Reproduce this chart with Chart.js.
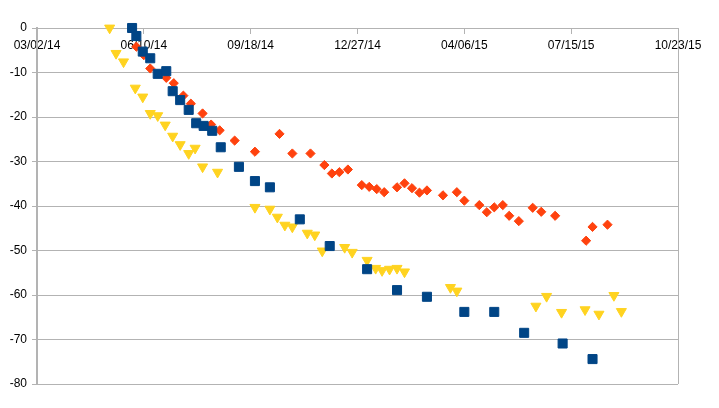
<!DOCTYPE html>
<html>
<head>
<meta charset="utf-8">
<script src="https://cdn.jsdelivr.net/npm/chart.js@4/dist/chart.umd.min.js"></script>
<style>
  html, body { margin: 0; padding: 0; background: #ffffff; }
  #wrap { width: 719px; height: 408px; }
</style>
</head>
<body>
<div id="wrap"><canvas id="c" width="719" height="408"></canvas></div>
<script>
// ---- Data ----
const baseDate = '2014-03-02';          // left end of the time axis
const xTickStepDays = 100;              // ticks every 100 days
const xSpanDays = 600;                  // 03/02/14 .. 10/23/15
const yTicks = [0, -10, -20, -30, -40, -50, -60, -70, -80];

const blueDates = ['2014-05-30','2014-06-03','2014-06-09','2014-06-16','2014-06-23','2014-07-01','2014-07-07','2014-07-14','2014-07-22','2014-07-29','2014-08-05','2014-08-13','2014-08-21','2014-09-07','2014-09-22','2014-10-06','2014-11-03','2014-12-01','2015-01-05','2015-02-02','2015-03-02','2015-04-06','2015-05-04','2015-06-01','2015-07-07','2015-08-04'];
const blueValues = [0,-1.8,-5.3,-6.8,-10.3,-9.7,-14.2,-16.2,-18.4,-21.4,-22.0,-23.1,-26.8,-31.2,-34.4,-35.8,-43.0,-49.0,-54.2,-58.9,-60.4,-63.8,-63.8,-68.5,-70.9,-74.4];

const orangeDates = ['2014-06-03','2014-06-10','2014-06-16','2014-07-01','2014-07-08','2014-07-17','2014-07-24','2014-08-04','2014-08-12','2014-08-20','2014-09-03','2014-09-22','2014-10-15','2014-10-27','2014-11-13','2014-11-26','2014-12-03','2014-12-10','2014-12-18','2014-12-31','2015-01-07','2015-01-14','2015-01-21','2015-02-02','2015-02-09','2015-02-16','2015-02-23','2015-03-02','2015-03-17','2015-03-30','2015-04-06','2015-04-20','2015-04-27','2015-05-04','2015-05-12','2015-05-18','2015-05-27','2015-06-09','2015-06-17','2015-06-30','2015-07-29','2015-08-04','2015-08-18'];
const orangeValues = [-4.2,-6.1,-9.1,-11.2,-12.4,-15.2,-17.0,-19.2,-21.7,-23.0,-25.3,-27.8,-23.8,-28.2,-28.2,-30.8,-32.7,-32.4,-31.8,-35.3,-35.7,-36.2,-36.9,-35.8,-34.9,-36.0,-37.0,-36.5,-37.6,-36.9,-38.8,-39.8,-41.4,-40.3,-39.8,-42.2,-43.4,-40.4,-41.3,-42.2,-47.8,-44.7,-44.2];

const yellowDates = ['2014-05-09','2014-05-15','2014-05-22','2014-06-02','2014-06-09','2014-06-16','2014-06-23','2014-06-30','2014-07-07','2014-07-14','2014-07-22','2014-07-28','2014-08-04','2014-08-18','2014-09-22','2014-10-06','2014-10-13','2014-10-20','2014-10-27','2014-11-10','2014-11-17','2014-11-24','2014-12-15','2014-12-22','2015-01-05','2015-01-13','2015-01-19','2015-01-26','2015-02-02','2015-02-09','2015-03-24','2015-03-30','2015-06-12','2015-06-22','2015-07-06','2015-07-28','2015-08-10','2015-08-24','2015-08-31'];
const yellowValues = [0,-5.7,-7.6,-13.5,-15.5,-19.2,-19.7,-21.8,-24.3,-26.2,-28.2,-27.0,-31.2,-32.4,-40.3,-40.7,-42.5,-44.3,-44.7,-46.1,-46.5,-50.1,-49.3,-50.4,-52.2,-54.0,-54.5,-54.2,-54.0,-54.8,-58.3,-59.1,-62.5,-60.3,-63.9,-63.3,-64.3,-60.1,-63.7];

// ---- Helpers ----
const DAY = 86400000;
function utc(s) { const p = s.split('-').map(Number); return Date.UTC(p[0], p[1] - 1, p[2]); }
const base = utc(baseDate);
function toDays(s) { return Math.round((utc(s) - base) / DAY); }
function pts(dates, vals) { return dates.map((d, i) => ({ x: toDays(d), y: vals[i] })); }
function fmt(days) {
  const d = new Date(base + days * DAY);
  const mm = String(d.getUTCMonth() + 1).padStart(2, '0');
  const dd = String(d.getUTCDate()).padStart(2, '0');
  const yy = String(d.getUTCFullYear() % 100).padStart(2, '0');
  return mm + '/' + dd + '/' + yy;
}

const GRID = '#b3b3b3';
const FONT = { family: '"Liberation Sans", Arial, sans-serif', size: 12 };

new Chart(document.getElementById('c'), {
  type: 'scatter',
  data: {
    datasets: [
      { label: 'Series 1', data: pts(blueDates, blueValues), pointStyle: 'rect', pointRadius: 6.4,
        backgroundColor: '#004586', borderColor: '#004586', borderWidth: 1, showLine: false, clip: false },
      { label: 'Series 2', data: pts(orangeDates, orangeValues), pointStyle: 'rectRot', pointRadius: 4.6,
        backgroundColor: '#ff420e', borderColor: '#ff420e', borderWidth: 1, showLine: false, clip: false },
      { label: 'Series 3', data: pts(yellowDates, yellowValues), pointStyle: 'triangle', rotation: 180, pointRadius: 5.8,
        backgroundColor: '#ffd320', borderColor: '#ffd320', borderWidth: 1, showLine: false, clip: false }
    ]
  },
  options: {
    responsive: false,
    animation: false,
    layout: { padding: { left: 0, right: 41, top: 28, bottom: 24 } },
    plugins: { legend: { display: false }, tooltip: { enabled: false } },
    scales: {
      x: {
        type: 'linear',
        position: { y: 0 },
        min: 0, max: xSpanDays,
        ticks: {
          stepSize: xTickStepDays, autoSkip: false, maxRotation: 0, minRotation: 0,
          color: '#000000', font: FONT, padding: 5,
          callback: (v) => fmt(v)
        },
        grid: {
          drawOnChartArea: true, drawTicks: true, tickLength: 5,
          color: (ctx) => (ctx.tick && ctx.tick.value === xSpanDays) ? GRID : 'rgba(0,0,0,0)',
          tickColor: GRID, lineWidth: 1
        },
        border: { display: true, color: GRID, width: 1 }
      },
      y: {
        type: 'linear',
        position: 'left',
        min: yTicks[yTicks.length - 1], max: yTicks[0],
        afterBuildTicks: (s) => { s.ticks = yTicks.map(v => ({ value: v })); },
        afterFit: (s) => { s.width = 37; },
        ticks: { color: '#000000', font: FONT, padding: 5, callback: (v) => String(v) },
        grid: { color: GRID, tickColor: GRID, tickLength: 5, lineWidth: 1 },
        border: { display: true, color: GRID, width: 2 }
      }
    }
  }
});
</script>
</body>
</html>
